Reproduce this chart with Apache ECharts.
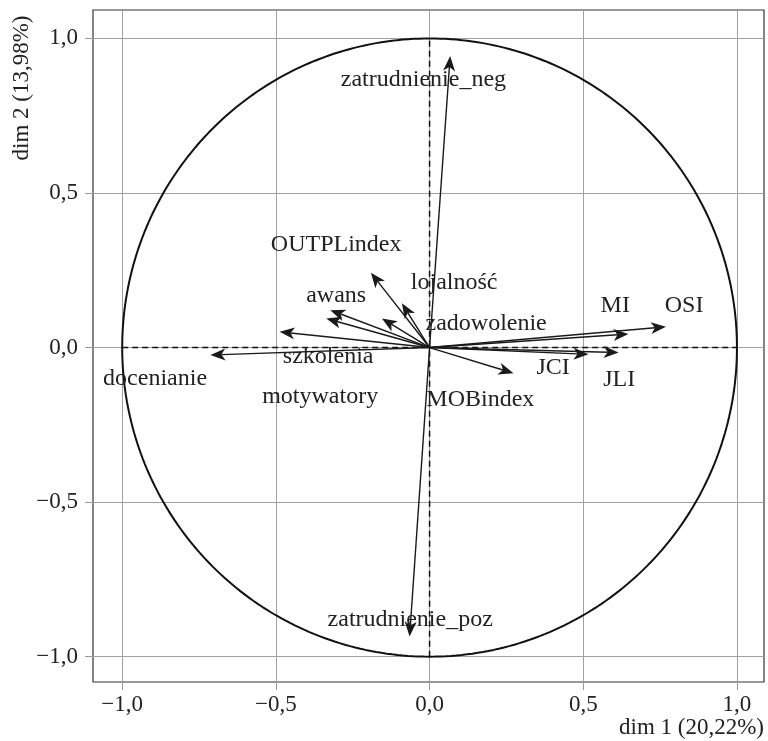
<!DOCTYPE html>
<html><head><meta charset="utf-8">
<script src="https://cdn.jsdelivr.net/npm/echarts@6/dist/echarts.min.js"></script>
<style>html,body{margin:0;padding:0;background:#fff}#c{width:768px;height:741px}</style>
</head><body><div id="c"></div>
<script>
// variable names
const variables = ['zatrudnienie_neg','zatrudnienie_poz','OUTPLindex','awans','lojalność','zadowolenie','szkolenia','motywatory','docenianie','MI','OSI','JCI','JLI','MOBindex'];
// arrow end coordinates (dim 1, dim 2)
const dim1 = [0.067, -0.065, -0.191, -0.323, -0.090, -0.155, -0.336, -0.488, -0.713, 0.647, 0.769, 0.517, 0.615, 0.273];
const dim2 = [0.943, -0.935, 0.242, 0.121, 0.143, 0.094, 0.094, 0.051, -0.024, 0.044, 0.067, -0.022, -0.016, -0.083];
// label anchor coordinates (dim 1, dim 2)
const labelDim1 = [-0.020, -0.063, -0.304, -0.304, 0.080, 0.184, -0.330, -0.356, -0.893, 0.604, 0.828, 0.402, 0.617, 0.165];
const labelDim2 = [0.868, -0.881, 0.332, 0.167, 0.209, 0.076, -0.031, -0.160, -0.102, 0.134, 0.134, -0.066, -0.105, -0.170];
// ticks
const tickValues = [-1, -0.5, 0, 0.5, 1];
const tickLabels = ['−1,0', '−0,5', '0,0', '0,5', '1,0'];
const xName = 'dim 1 (20,22%)';
const yName = 'dim 2 (13,98%)';

const FONT = '"Liberation Serif", "DejaVu Serif", serif';
const TXT = '#222';

// unit correlation circle
const circlePts = [];
for (let a = 0; a <= 360; a += 1) {
  const r = a * Math.PI / 180;
  circlePts.push([Math.cos(r), Math.sin(r)]);
}

function fmt(v) {
  let best = 0, bd = Infinity;
  tickValues.forEach((t, i) => { const d = Math.abs(t - v); if (d < bd) { bd = d; best = i; } });
  return tickLabels[best];
}

const chart = echarts.init(document.getElementById('c'), null, {renderer: 'canvas'});
chart.setOption({
  animation: false,
  backgroundColor: '#fff',
  grid: {left: 93, right: 4, top: 10, bottom: 59, show: true, borderColor: '#333', borderWidth: 1.2, outerBoundsMode: 'none'},
  xAxis: {
    type: 'value', min: -1.095, max: 1.088,
    axisLine: {show: false, onZero: false},
    splitLine: {show: false},
    axisTick: {show: true, customValues: tickValues, length: 8, lineStyle: {color: '#999', width: 1}},
    axisLabel: {customValues: tickValues, formatter: fmt, margin: 11, color: TXT, fontFamily: FONT, fontSize: 23}
  },
  yAxis: {
    type: 'value', min: -1.082, max: 1.092,
    axisLine: {show: false, onZero: false},
    splitLine: {show: false},
    axisTick: {show: true, customValues: tickValues, length: 8, lineStyle: {color: '#999', width: 1}},
    axisLabel: {customValues: tickValues, formatter: fmt, margin: 15, color: TXT, fontFamily: FONT, fontSize: 23}
  },
  graphic: [
    {type: 'text', right: 4, top: 716, style: {text: xName, fill: TXT, font: '23px ' + FONT}},
    {type: 'text', x: 22, y: 88, rotation: Math.PI / 2, style: {text: yName, fill: TXT, font: '23px ' + FONT, align: 'center', verticalAlign: 'middle'}}
  ],
  series: [
    {
      type: 'line', data: [], z: 1, silent: true,
      markLine: {
        silent: true, symbol: 'none', label: {show: false}, z: 1,
        lineStyle: {color: '#a0a0a0', width: 1, type: 'solid'},
        data: tickValues.map(v => ({xAxis: v})).concat(tickValues.map(v => ({yAxis: v})))
      }
    },
    {
      type: 'line', data: circlePts, showSymbol: false, z: 3, silent: true,
      lineStyle: {color: '#111', width: 2}
    },
    {
      type: 'line', data: [[0, -1], [0, 1]], showSymbol: false, z: 3, silent: true,
      lineStyle: {color: '#111', width: 1.5, type: [6, 4]}
    },
    {
      type: 'line', data: [[-1, 0], [1, 0]], showSymbol: false, z: 3, silent: true,
      lineStyle: {color: '#111', width: 1.5, type: [6, 4]}
    },
    {
      type: 'custom', z: 4, silent: true, clip: false,
      data: variables.map((v, i) => [dim1[i], dim2[i]]),
      renderItem: function (params, api) {
        const o = api.coord([0, 0]);
        const t = api.coord([api.value(0), api.value(1)]);
        const dx = t[0] - o[0], dy = t[1] - o[1];
        const L = Math.hypot(dx, dy);
        const ux = dx / L, uy = dy / L, px = -uy, py = ux;
        const hl = 15, hw = 6, notch = 4;
        const base = [t[0] - ux * hl, t[1] - uy * hl];
        const back = [t[0] - ux * (hl - notch), t[1] - uy * (hl - notch)];
        return {type: 'group', children: [
          {type: 'line', shape: {x1: o[0], y1: o[1], x2: back[0], y2: back[1]}, style: {stroke: '#1a1a1a', lineWidth: 1.4}},
          {type: 'polygon', shape: {points: [t, [base[0] + px * hw, base[1] + py * hw], back, [base[0] - px * hw, base[1] - py * hw]]}, style: {fill: '#1a1a1a'}}
        ]};
      }
    },
    {
      type: 'custom', z: 5, silent: true, clip: false,
      data: variables.map((v, i) => [labelDim1[i], labelDim2[i], v]),
      renderItem: function (params, api) {
        const p = api.coord([api.value(0), api.value(1)]);
        return {type: 'text', x: p[0], y: p[1], style: {text: variables[params.dataIndex], fill: TXT, font: '24px ' + FONT, align: 'center', verticalAlign: 'middle'}};
      }
    }
  ]
});
</script>
</body></html>
